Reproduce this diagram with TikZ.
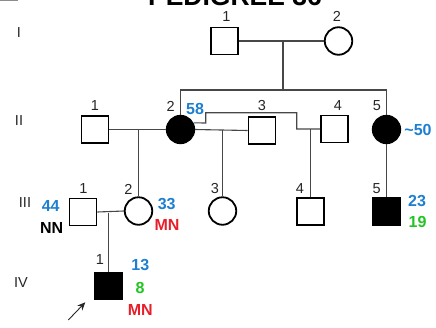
\documentclass[tikz,border=0pt]{standalone}
\usepackage{fontspec}
\setmainfont{Liberation Sans}
\usetikzlibrary{arrows.meta}
\definecolor{agecol}{HTML}{1E7FD0}
\definecolor{gtcol}{HTML}{E81E2A}
\definecolor{oncol}{HTML}{22C422}
\begin{document}
\begin{tikzpicture}[x=1pt,y=-1pt,
  male/.style={rectangle,draw=black,line width=1.8pt,minimum size=27pt,inner sep=0pt},
  female/.style={circle,draw=black,line width=1.8pt,minimum size=27.5pt,inner sep=0pt},
  aff/.style={fill=black},
  link/.style={draw=black!72,line width=1.1pt},
  num/.style={font=\fontsize{14.5}{14.5}\selectfont,text=black!85,inner sep=0pt},
  age/.style={font=\bfseries\fontsize{16}{16}\selectfont,text=agecol,inner sep=0pt},
  geno/.style={font=\bfseries\fontsize{16}{16}\selectfont,inner sep=0pt},
  onset/.style={font=\bfseries\fontsize{16}{16}\selectfont,text=oncol,inner sep=0pt}]
\useasboundingbox (0,0) rectangle (436,327);
\clip (0,0) rectangle (436,327);
\fill[black!45] (0,0) rectangle (18,1.3);
\node[font=\bfseries\fontsize{26.5}{26.5}\selectfont,anchor=base,inner sep=0pt] (title) at (235,5.5) {PEDIGREE 36};
% generation labels
\node[num] (gI) at (19,32.5) {I};
\node[num] (gII) at (19,121) {II};
\node[num] (gIII) at (25,202.5) {III};
\node[num] (gIV) at (21,283) {IV};
% individuals
\node[male] (I1) at (224.5,41) {};
\node[female] (I2) at (338.5,41) {};
\node[male] (II1) at (95,129.5) {};
\node[female,aff] (II2) at (180.5,129.5) {};
\node[male] (II3) at (262,130.5) {};
\node[male] (II4) at (334.5,129) {};
\node[female,aff] (II5) at (386.5,129.5) {};
\node[male] (III1) at (83,212) {};
\node[female] (III2) at (138.5,211) {};
\node[female] (III3) at (222.5,211) {};
\node[male] (III4) at (310.3,211.5) {};
\node[male,aff] (III5) at (386.5,211.5) {};
\node[male,aff] (IV1) at (108.3,286) {};
% connectors
\coordinate (mI) at (283,41);
\coordinate (sibI) at (283,90);
\draw[link] (I1.east) -- (I2.west);
\draw[link] (mI) -- (sibI);
\draw[link] (II2.north) -- (II2.north |- sibI) -- (II5.north |- sibI) -- (II5.north);
\coordinate (m21) at (138.5,129.5);
\draw[link] (II1.east) -- (II2.west);
\draw[link] (m21) -- (III2.north);
\coordinate (m23) at (222.5,129.5);
\draw[link] (II2.east) -- (II3.west);
\draw[link] (m23) -- (III3.north);
\coordinate (k1) at (205.7,123);
\coordinate (k2) at (205.7,112.7);
\coordinate (k3) at (296.7,112.7);
\coordinate (k4) at (296.7,129);
\draw[link] (II2.27) -- (k1) -- (k2) -- (k3) -- (k4) -- (II4.west);
\coordinate (m24) at (310.3,129);
\draw[link] (m24) -- (III4.north);
\draw[link] (II5.south) -- (III5.north);
\coordinate (m3) at (108.3,212.5);
\draw[link] (III1.east) -- (III2.west);
\draw[link] (m3) -- (IV1.north);
% proband arrow
\coordinate (arrT) at (68.3,320);
\coordinate (arrH) at (85.3,302.3);
\draw[black!85,line width=0.9pt,-{Stealth[length=8pt,width=7pt]}] (arrT) -- (arrH);
% numbers
\node[num] (nI1) at (226.5,16.5) {1};
\node[num] (nI2) at (337,16.5) {2};
\node[num] (nII1) at (95,106) {1};
\node[num] (nII2) at (170.7,106) {2};
\node[num] (nII3) at (262,106) {3};
\node[num] (nII4) at (338,106) {4};
\node[num] (nII5) at (377,106) {5};
\node[num] (nIII1) at (83.3,189) {1};
\node[num] (nIII2) at (128.3,189) {2};
\node[num] (nIII3) at (215,189) {3};
\node[num] (nIII4) at (300,189) {4};
\node[num] (nIII5) at (376.7,189) {5};
\node[num] (nIV1) at (100,260) {1};
% ages
\node[age] (a58) at (195,109) {58};
\node[age] (a50) at (418,129.5) {\textasciitilde 50};
\node[age] (a44) at (50.7,206) {44};
\node[age] (a33) at (166.7,204) {33};
\node[age] (a23) at (417,201) {23};
\node[age] (a13) at (140.3,265) {13};
% onset
\node[onset] (o19) at (417.5,222) {19};
\node[onset] (o8) at (140,287.5) {8};
% genotypes
\node[geno,text=black] (gNN) at (51.7,227.5) {NN};
\node[geno,text=gtcol] (gMN1) at (167,225) {MN};
\node[geno,text=gtcol] (gMN2) at (140.3,310) {MN};
\end{tikzpicture}
\end{document}
